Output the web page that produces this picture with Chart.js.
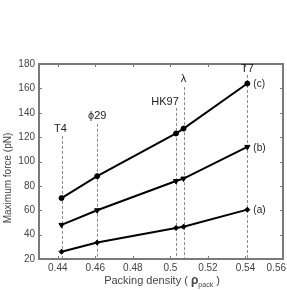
<!DOCTYPE html>
<html lang="en">
<head>
    <meta charset="UTF-8">
    <title>Maximum force vs packing density</title>
    <script src="https://cdn.jsdelivr.net/npm/chart.js"></script>
    <style>
        html, body { margin: 0; padding: 0; background: #fff; }
        canvas { display: block; }
    </style>
</head>
<body>
    <canvas id="forceChart" width="287" height="290"></canvas>

    <script>
        // Data
        const capsids = ["T4", "\u03d529", "HK97", "\u03bb", "T7"];
        const packingDensity = [0.442, 0.461, 0.503, 0.507, 0.541];
        const forceC = [70, 88, 123, 127, 164];
        const forceB = [48, 60, 84, 86, 112];
        const forceA = [26, 33.5, 45.5, 46.5, 60.5];
        const seriesNames = ["(c)", "(b)", "(a)"];
        const xTickValues = [0.44, 0.46, 0.48, 0.5, 0.52, 0.54, 0.56];
        const xTickLabels = ["0.44", "0.46", "0.48", "0.5", "0.52", "0.54", "0.56"];
        const yTickValues = [20, 40, 60, 80, 100, 120, 140, 160, 180];

        const FONT = "Liberation Sans, Arial, sans-serif";
        const FRAME = "#7a7a7a";
        const TEXT = "#444";

        const toPoints = ys => ys.map((y, i) => ({ x: packingDensity[i], y: y }));

        // Dashed guides, capsid names, frame and labels
        const annotate = {
            id: "annotate",
            beforeDatasetsDraw(chart, args, opts) {
                const { ctx, chartArea, scales } = chart;
                ctx.save();
                ctx.strokeStyle = "#8a8a8a";
                ctx.lineWidth = 1;
                ctx.setLineDash([3, 2]);
                packingDensity.forEach((d, i) => {
                    const x = Math.round(scales.x.getPixelForValue(d)) + 0.5;
                    ctx.beginPath();
                    ctx.moveTo(x, scales.y.getPixelForValue(opts.guideTop[i]));
                    ctx.lineTo(x, chartArea.bottom);
                    ctx.stroke();
                });
                ctx.restore();
            },
            afterDraw(chart, args, opts) {
                const { ctx, chartArea, scales } = chart;
                const { left, right, top, bottom } = chartArea;
                ctx.save();

                // frame
                ctx.strokeStyle = FRAME;
                ctx.lineWidth = 2;
                ctx.strokeRect(left, top, right - left, bottom - top);

                // inward tick marks
                ctx.lineWidth = 1;
                yTickValues.forEach(v => {
                    const y = Math.round(scales.y.getPixelForValue(v)) + 0.5;
                    ctx.beginPath();
                    ctx.moveTo(left, y); ctx.lineTo(left + 3, y);
                    ctx.moveTo(right, y); ctx.lineTo(right - 3, y);
                    ctx.stroke();
                });
                xTickValues.forEach(v => {
                    const x = Math.round(scales.x.getPixelForValue(v)) + 0.5;
                    ctx.beginPath();
                    ctx.moveTo(x, bottom); ctx.lineTo(x, bottom - 3);
                    ctx.moveTo(x, top); ctx.lineTo(x, top + 3);
                    ctx.stroke();
                });

                // x tick labels (last one kept inside the canvas)
                ctx.fillStyle = TEXT;
                ctx.font = "10px " + FONT;
                ctx.textBaseline = "top";
                xTickValues.forEach((v, i) => {
                    let x = scales.x.getPixelForValue(v);
                    const w = ctx.measureText(xTickLabels[i]).width;
                    ctx.textAlign = "center";
                    if (x + w / 2 > chart.width - 1) x = chart.width - 1 - w / 2;
                    ctx.fillText(xTickLabels[i], x, bottom + 4);
                });

                // capsid names above the guides
                ctx.fillStyle = "#222";
                ctx.font = "11px " + FONT;
                ctx.textBaseline = "middle";
                capsids.forEach((name, i) => {
                    const x = scales.x.getPixelForValue(packingDensity[i]) + opts.nameShift[i];
                    const y = scales.y.getPixelForValue(opts.nameAt[i]);
                    ctx.textAlign = "center";
                    ctx.fillText(name, x, y);
                });

                // series names at the right end
                ctx.font = "10px " + FONT;
                ctx.textAlign = "left";
                chart.data.datasets.forEach((ds, i) => {
                    const last = ds.data[ds.data.length - 1];
                    ctx.fillText(seriesNames[i], scales.x.getPixelForValue(last.x) + 6,
                        scales.y.getPixelForValue(last.y) + 1);
                });

                // y title
                ctx.fillStyle = TEXT;
                ctx.font = "10px " + FONT;
                ctx.save();
                ctx.translate(8, 178);
                ctx.rotate(-Math.PI / 2);
                ctx.textAlign = "center";
                ctx.fillText("Maximum force (pN)", 0, 0);
                ctx.restore();

                // x title with subscript
                const parts = [
                    { t: "Packing density ( ", f: "11px " + FONT, dy: 0 },
                    { t: "\u03c1", f: "bold 12px " + FONT, dy: 0 },
                    { t: "pack", f: "7px " + FONT, dy: 4 },
                    { t: " )", f: "11px " + FONT, dy: 0 }
                ];
                let total = 0;
                parts.forEach(p => { ctx.font = p.f; total += ctx.measureText(p.t).width; });
                let x = 162 - total / 2;
                ctx.textAlign = "left";
                parts.forEach(p => {
                    ctx.font = p.f;
                    ctx.fillText(p.t, x, 281 + p.dy);
                    x += ctx.measureText(p.t).width;
                });

                ctx.restore();
            }
        };

        const lineStyle = {
            borderColor: "#000",
            backgroundColor: "#000",
            borderWidth: 2,
            pointRadius: 2.5,
            pointHoverRadius: 2.5,
            pointBorderWidth: 1,
            tension: 0,
            clip: false
        };

        new Chart(document.getElementById("forceChart"), {
            type: "line",
            data: {
                datasets: [
                    { ...lineStyle, label: seriesNames[0], data: toPoints(forceC), pointStyle: "circle" },
                    { ...lineStyle, label: seriesNames[1], data: toPoints(forceB), pointStyle: "triangle", pointRotation: 180, pointRadius: 3 },
                    { ...lineStyle, label: seriesNames[2], data: toPoints(forceA), pointStyle: "rectRot" }
                ]
            },
            options: {
                responsive: false,
                animation: false,
                devicePixelRatio: 1,
                layout: { padding: { top: 64, right: 1, left: 0, bottom: 0 } },
                plugins: {
                    legend: { display: false },
                    tooltip: { enabled: false },
                    annotate: {
                        guideTop: [121, 131, 144, 161, 171],
                        nameAt: [127, 137, 149, 168, 176],
                        nameShift: [-1, 0, -11, 0, 0]
                    }
                },
                scales: {
                    x: {
                        type: "linear",
                        min: 0.43,
                        max: 0.56,
                        grid: { display: false, drawTicks: false },
                        border: { display: false },
                        ticks: { display: false },
                        afterBuildTicks: s => { s.ticks = xTickValues.map(v => ({ value: v })); },
                        afterFit: s => { s.height = 31; s.paddingLeft = 0; s.paddingRight = 0; }
                    },
                    y: {
                        min: 20,
                        max: 180,
                        grid: { display: false, drawTicks: false },
                        border: { display: false },
                        afterBuildTicks: s => { s.ticks = yTickValues.map(v => ({ value: v })); },
                        ticks: { padding: 4, color: TEXT, font: { family: FONT, size: 10 } },
                        afterFit: s => { s.width = 39; s.paddingTop = 0; s.paddingBottom = 0; }
                    }
                }
            },
            plugins: [annotate]
        });
    </script>
</body>
</html>
